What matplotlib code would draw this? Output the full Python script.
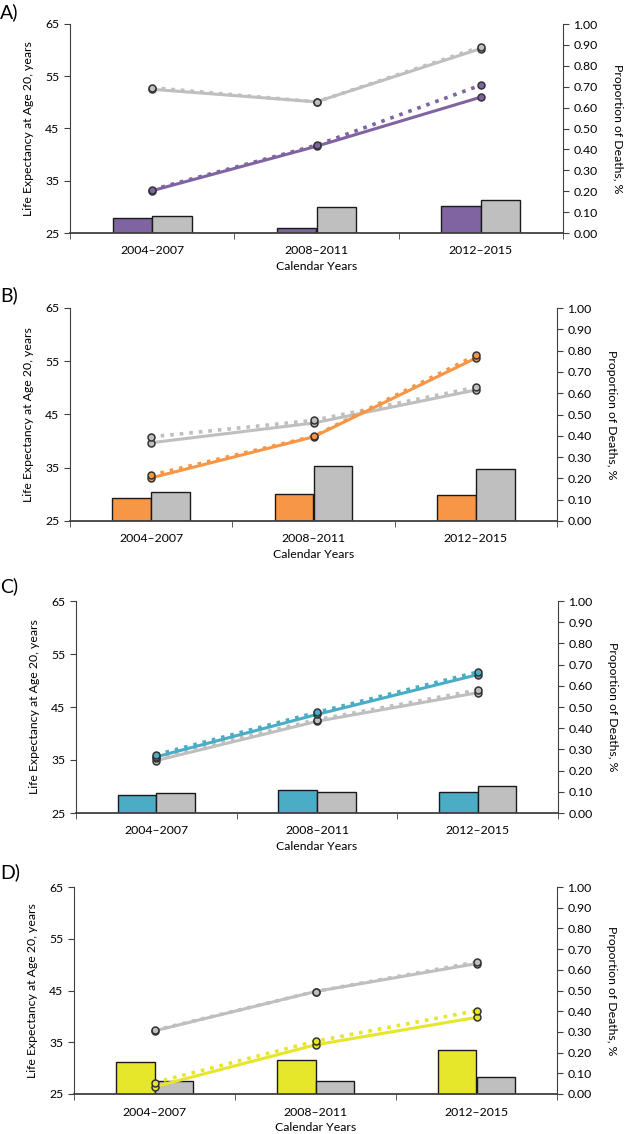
import matplotlib
matplotlib.use("Agg")
import matplotlib.pyplot as plt
import numpy as np

plt.rcParams['font.family'] = ['Lato', 'DejaVu Sans']

years = ['2004–2007', '2008–2011', '2012–2015']
panel_labels = ['A)', 'B)', 'C)', 'D)']
panel_colors = ['#8064A2', '#F79646', '#4BACC6', '#E6E62A']
gray = '#BFBFBF'

# Life expectancy at age 20 (left axis)
le_color_solid = [[33.1, 41.6, 51.0], [33.1, 40.8, 55.6], [35.6, 43.6, 51.1], [26.4, 34.5, 39.8]]
le_color_dotted = [[33.3, 41.8, 53.3], [33.6, 40.9, 56.1], [36.0, 44.0, 51.6], [27.2, 35.2, 41.1]]
le_gray_solid = [[52.5, 50.1, 60.3], [39.7, 43.4, 49.6], [34.9, 42.3, 47.7], [37.2, 44.8, 50.2]]
le_gray_dotted = [[52.8, 50.1, 60.6], [40.8, 43.9, 50.1], [35.4, 42.6, 48.2], [37.3, 44.8, 50.5]]

# Proportion of deaths (right axis)
prop_color = [[0.070, 0.022, 0.128], [0.110, 0.128, 0.122], [0.083, 0.110, 0.099], [0.155, 0.164, 0.213]]
prop_gray = [[0.080, 0.124, 0.156], [0.138, 0.258, 0.245], [0.093, 0.099, 0.128], [0.061, 0.064, 0.081]]

W, H = 625, 1134
fig = plt.figure(figsize=(W / 100, H / 100), dpi=100)

# axes boxes in pixels: left, top, right, bottom
boxes = [(70, 24, 563, 233), (70, 308, 557, 521), (76, 601, 558, 813), (74, 887, 557, 1094)]
label_y = [12, 295, 586, 872]

fs = 8.8
spine_c = '#404040'
for i in range(4):
    l, t, r, b = boxes[i]
    ax = fig.add_axes([l / W, 1 - b / H, (r - l) / W, (b - t) / H])
    ax2 = ax.twinx()
    x = np.arange(len(years))
    bw = 0.24
    ax2.bar(x - bw / 2, prop_color[i], width=bw, color=panel_colors[i], edgecolor='#1a1a1a', linewidth=1.0)
    ax2.bar(x + bw / 2, prop_gray[i], width=bw, color=gray, edgecolor='#1a1a1a', linewidth=1.0)
    ax2.set_ylim(0, 1.0)
    ax2.set_yticks(np.arange(0, 1.01, 0.1))
    ax2.set_yticklabels([f'{v:.2f}' for v in np.arange(0, 1.01, 0.1)], fontsize=fs)
    ax2.set_ylabel('Proportion of Deaths, %', rotation=270, fontsize=fs, labelpad=18)

    mk = dict(marker='o', markersize=5, markeredgecolor='#333333', markeredgewidth=1.1)
    ax.plot(x, le_gray_solid[i], '-', color=gray, lw=2.2, markerfacecolor=gray, **mk)
    ax.plot(x, le_gray_dotted[i], ':', color=gray, lw=2.6, markerfacecolor=gray, **mk)
    ax.plot(x, le_color_solid[i], '-', color=panel_colors[i], lw=2.2, markerfacecolor=panel_colors[i], **mk)
    ax.plot(x, le_color_dotted[i], ':', color=panel_colors[i], lw=2.6, markerfacecolor=panel_colors[i], **mk)
    ax.set_ylim(25, 65)
    ax.set_yticks([25, 35, 45, 55, 65])
    ax.set_xlim(-0.5, 2.5)
    ax.set_xticks(x)
    ax.set_xticklabels(years, fontsize=fs)
    ax.set_xticks([-0.5, 0.5, 1.5, 2.5], minor=True)
    ax.tick_params(axis='x', which='major', length=0, pad=9)
    ax.tick_params(axis='x', which='minor', length=4, direction='out', color=spine_c)
    ax.tick_params(axis='y', labelsize=fs, length=4, color=spine_c)
    ax2.tick_params(axis='y', length=4, color=spine_c)
    ax.set_xlabel('Calendar Years', fontsize=fs, labelpad=3)
    ax.set_ylabel('Life Expectancy at Age 20, years', fontsize=fs, labelpad=8)

    ax.set_zorder(ax2.get_zorder() + 1)
    ax.patch.set_visible(False)
    for a in (ax, ax2):
        a.spines['top'].set_visible(False)
    ax.spines['right'].set_visible(False)
    ax2.spines['left'].set_visible(False)
    ax2.spines['bottom'].set_visible(False)
    ax.spines['left'].set_color(spine_c)
    ax.spines['bottom'].set_color('#404040')
    ax.spines['bottom'].set_linewidth(1.3)
    ax2.spines['right'].set_color(spine_c)
    fig.text(0, 1 - label_y[i] / H, panel_labels[i], fontsize=14, va='center', ha='left')

fig.savefig('out.png', dpi=100)
